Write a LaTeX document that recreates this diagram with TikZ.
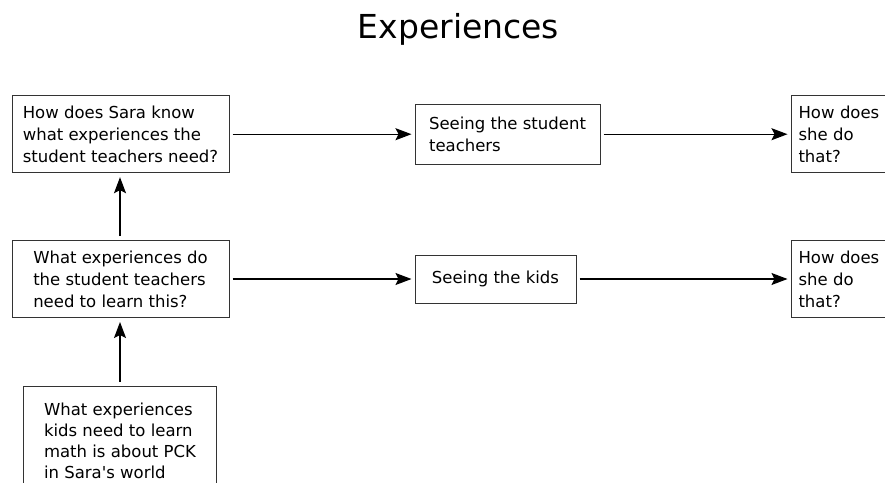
\documentclass[tikz,border=0pt]{standalone}
\usepackage{fontspec}
\setmainfont{DejaVu Sans}
\usetikzlibrary{arrows.meta}
\begin{document}
\begin{tikzpicture}[x=1pt,y=-1pt,
  box/.style={draw=black!80,line width=1pt,rectangle,inner sep=0pt,align=left,
    font=\fontsize{16.5}{22}\selectfont},
  conn/.style={line width=1.2pt,-{Stealth[length=16pt,width=12pt,inset=3pt]},
    shorten <=3pt,shorten >=3pt}]
\clip (0,0) rectangle (885,482);
\fill[white] (0,0) rectangle (885,482);
\node[anchor=base,font=\fontsize{33}{40}\selectfont] (title) at (458.5,38) {Experiences};
\node[box,minimum width=217,minimum height=77] (A) at (120.5,134.2)
  {How does Sara know\\what experiences the\\student teachers need?};
\node[box,minimum width=217,minimum height=77] (B) at (120.5,279)
  {What experiences do\\the student teachers\\need to learn this?};
\node[box,minimum width=193.4,minimum height=109,anchor=north,
  font=\fontsize{16.5}{20.8}\selectfont] (C) at (120,385.7)
  {What experiences\\kids need to learn\\math is about PCK\\in Sara\textquotesingle s world};
\node[box,minimum width=185,minimum height=60] (D) at (507.5,134)
  {Seeing the student\\teachers};
\node[box,minimum width=161,minimum height=48] (E) at (495.5,279)
  {Seeing the kids};
\node[box,minimum width=97,minimum height=77,text width=82,anchor=west] (F) at (790.5,134.2)
  {How does\\she do\\that?};
\node[box,minimum width=97,minimum height=77,text width=82,anchor=west] (G) at (790.5,279)
  {How does\\she do\\that?};
\draw[conn] (A.east) -- (D.west |- A.east);
\draw[conn] (D.east |- A.east) -- (F.west |- A.east);
\draw[conn] (B.east) -- (E.west |- B.east);
\draw[conn] (E.east |- B.east) -- (G.west |- B.east);
\draw[conn,shorten <=4pt,shorten >=4pt] (B.north -| 120,0) -- (A.south -| 120,0);
\draw[conn,shorten <=4pt,shorten >=4pt] (C.north) -- (B.south -| C.north);
\end{tikzpicture}
\end{document}
